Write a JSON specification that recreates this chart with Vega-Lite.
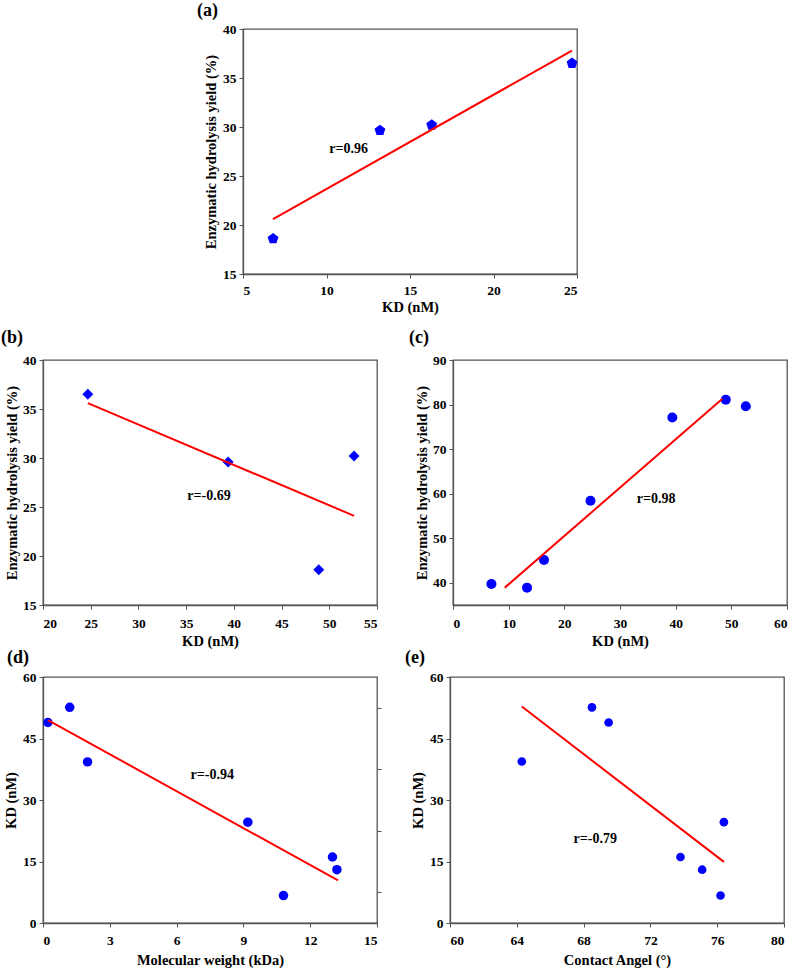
{
  "$schema": "https://vega.github.io/schema/vega-lite/v6.json",
  "background": "white",
  "padding": {"left": 0, "top": 1, "right": 2, "bottom": 1},
  "config": {
    "font": "Liberation Serif",
    "view": {"stroke": "#555", "strokeWidth": 1.3},
    "axis": {"labelFont": "Liberation Serif", "labelFontWeight": "bold", "labelFontSize": 13.5, "labelColor": "black", "titleFont": "Liberation Serif", "titleFontWeight": "bold", "titleFontSize": 14.5, "titleColor": "black", "grid": false, "domainColor": "#555", "domainWidth": 1.3, "tickColor": "#555", "tickSize": 4, "labelPadding": 3, "titlePadding": 4},
    "axisX": {"labelPadding": 5, "titlePadding": 4},
    "title": {"font": "Liberation Serif", "fontSize": 18, "fontWeight": "bold", "anchor": "start", "frame": "group", "color": "black", "offset": 3}
  },
  "spacing": 13,
  "vconcat": [
    {
      "bounds": "flush",
      "spacing": 10,
      "hconcat": [
        {"width": 190, "height": 10, "view": {"stroke": null}, "data": {"values": [{"a": 0}]}, "mark": {"type": "point", "opacity": 0}, "encoding": {}},
        {
          "width": 334, "height": 245,
          "title": {"text": "(a)", "dx": -46, "offset": 2},
          "encoding": {
            "x": {"field": "x", "type": "quantitative", "scale": {"domain": [5, 25], "nice": false, "zero": false}, "axis": {"values": [5, 10, 15, 20, 25], "title": "KD (nM)"}},
            "y": {"field": "y", "type": "quantitative", "scale": {"domain": [15, 40], "nice": false, "zero": false}, "axis": {"values": [15, 20, 25, 30, 35, 40], "title": "Enzymatic hydrolysis  yield (%)"}}
          },
          "layer": [
            {"data": {"values": [{"x": 6.8, "y": 18.6}, {"x": 13.2, "y": 29.65}, {"x": 16.3, "y": 30.2}, {"x": 24.7, "y": 36.5}]},
             "mark": {"type": "point", "shape": "M0,-1L0.951,-0.309L0.588,0.809L-0.588,0.809L-0.951,-0.309Z", "filled": true, "color": "#0000ff", "opacity": 1, "size": 130}},
            {"data": {"values": [{"x": 6.8, "y": 20.6}, {"x": 24.7, "y": 37.8}]},
             "mark": {"type": "line", "color": "#ff0000", "strokeWidth": 2}},
            {"data": {"values": [{"x": 11.33, "y": 27.77, "label": "r=0.96"}]},
             "mark": {"type": "text", "font": "Liberation Serif", "fontWeight": "bold", "fontSize": 14, "color": "black"},
             "encoding": {"text": {"field": "label"}}}
          ]
        }
      ]
    },
    {
      "spacing": -1,
      "vconcat": [
        {
          "bounds": "flush",
          "spacing": 76,
          "hconcat": [
            {
              "width": 334, "height": 245,
              "title": {"text": "(b)", "dx": -42, "offset": 6},
              "encoding": {
                "x": {"field": "x", "type": "quantitative", "scale": {"domain": [20, 55], "nice": false, "zero": false}, "axis": {"values": [20, 25, 30, 35, 40, 45, 50, 55], "title": "KD (nM)", "labelPadding": 7, "titlePadding": 5}},
                "y": {"field": "y", "type": "quantitative", "scale": {"domain": [15, 40], "nice": false, "zero": false}, "axis": {"values": [15, 20, 25, 30, 35, 40], "title": "Enzymatic hydrolysis  yield (%)", "titlePadding": 3}}
              },
              "layer": [
                {"data": {"values": [{"x": 24.7, "y": 36.5}, {"x": 39.4, "y": 29.6}, {"x": 48.9, "y": 18.6}, {"x": 52.6, "y": 30.2}]},
                 "mark": {"type": "point", "shape": "diamond", "filled": true, "color": "#0000ff", "opacity": 1, "size": 120}},
                {"data": {"values": [{"x": 24.7, "y": 35.6}, {"x": 52.6, "y": 24.1}]},
                 "mark": {"type": "line", "color": "#ff0000", "strokeWidth": 2}},
                {"data": {"values": [{"x": 37.4, "y": 26.1, "label": "r=-0.69"}]},
                 "mark": {"type": "text", "font": "Liberation Serif", "fontWeight": "bold", "fontSize": 14, "color": "black"},
                 "encoding": {"text": {"field": "label"}}}
              ]
            },
            {
              "width": 334, "height": 245,
              "title": {"text": "(c)", "dx": -44, "offset": 6},
              "encoding": {
                "x": {"field": "x", "type": "quantitative", "scale": {"domain": [0, 60], "nice": false, "zero": false}, "axis": {"values": [0, 10, 20, 30, 40, 50, 60], "title": "KD (nM)", "labelPadding": 7, "titlePadding": 5}},
                "y": {"field": "y", "type": "quantitative", "scale": {"domain": [35, 90], "nice": false, "zero": false}, "axis": {"values": [40, 50, 60, 70, 80, 90], "title": "Enzymatic hydrolysis  yield (%)", "titlePadding": 3}}
              },
              "layer": [
                {"data": {"values": [{"x": 6.9, "y": 39.7}, {"x": 13.3, "y": 38.9}, {"x": 16.35, "y": 45.1}, {"x": 24.7, "y": 58.4}, {"x": 39.4, "y": 77.1}, {"x": 49.0, "y": 81.1}, {"x": 52.6, "y": 79.6}]},
                 "mark": {"type": "circle", "color": "#0000ff", "opacity": 1, "size": 100}},
                {"data": {"values": [{"x": 9.3, "y": 38.9}, {"x": 48.4, "y": 81.3}]},
                 "mark": {"type": "line", "color": "#ff0000", "strokeWidth": 2}},
                {"data": {"values": [{"x": 36.5, "y": 58.8, "label": "r=0.98"}]},
                 "mark": {"type": "text", "font": "Liberation Serif", "fontWeight": "bold", "fontSize": 14, "color": "black"},
                 "encoding": {"text": {"field": "label"}}}
              ]
            }
          ]
        },
        {
          "bounds": "flush",
          "spacing": 73,
          "hconcat": [
            {
              "width": 334, "height": 246,
              "title": {"text": "(d)", "dx": -36, "offset": 3},
              "resolve": {"axis": {"y": "independent"}},
              "encoding": {
                "x": {"field": "x", "type": "quantitative", "scale": {"domain": [0, 15], "nice": false, "zero": false}, "axis": {"values": [0, 3, 6, 9, 12, 15], "title": "Molecular weight (kDa)", "labelPadding": 6, "titlePadding": 7}}
              },
              "layer": [
                {"data": {"values": [{"x": 0.22, "y": 48.9}, {"x": 1.2, "y": 52.6}, {"x": 2.0, "y": 39.3}, {"x": 9.2, "y": 24.6}, {"x": 10.8, "y": 6.7}, {"x": 13.0, "y": 16.1}, {"x": 13.2, "y": 13.0}]},
                 "mark": {"type": "circle", "color": "#0000ff", "opacity": 1, "size": 90},
                 "encoding": {"y": {"field": "y", "type": "quantitative", "scale": {"domain": [0, 60], "nice": false, "zero": false}, "axis": {"values": [0, 15, 30, 45, 60], "title": "KD (nM)"}}}},
                {"data": {"values": [{"x": 0.22, "y": 49.5}, {"x": 13.25, "y": 10.4}]},
                 "mark": {"type": "line", "color": "#ff0000", "strokeWidth": 2},
                 "encoding": {"y": {"field": "y", "type": "quantitative", "axis": {"orient": "right", "values": [7.5, 22.5, 37.5, 52.5], "labels": false, "domain": false, "title": null}}}},
                {"data": {"values": [{"x": 7.6, "y": 36.1, "label": "r=-0.94"}]},
                 "mark": {"type": "text", "font": "Liberation Serif", "fontWeight": "bold", "fontSize": 14, "color": "black"},
                 "encoding": {"y": {"field": "y", "type": "quantitative", "axis": null}, "text": {"field": "label"}}}
              ]
            },
            {
              "width": 334, "height": 246,
              "title": {"text": "(e)", "dx": -45, "offset": 3},
              "encoding": {
                "x": {"field": "x", "type": "quantitative", "scale": {"domain": [60, 80], "nice": false, "zero": false}, "axis": {"values": [60, 64, 68, 72, 76, 80], "title": "Contact Angel (°)", "labelPadding": 6, "titlePadding": 7}},
                "y": {"field": "y", "type": "quantitative", "scale": {"domain": [0, 60], "nice": false, "zero": false}, "axis": {"values": [0, 15, 30, 45, 60], "title": "KD (nM)"}}
              },
              "layer": [
                {"data": {"values": [{"x": 64.3, "y": 39.4}, {"x": 68.5, "y": 52.6}, {"x": 69.5, "y": 48.9}, {"x": 73.8, "y": 16.1}, {"x": 75.1, "y": 13.0}, {"x": 76.2, "y": 6.7}, {"x": 76.4, "y": 24.6}]},
                 "mark": {"type": "circle", "color": "#0000ff", "opacity": 1, "size": 75}},
                {"data": {"values": [{"x": 64.3, "y": 52.8}, {"x": 76.4, "y": 14.9}]},
                 "mark": {"type": "line", "color": "#ff0000", "strokeWidth": 2}},
                {"data": {"values": [{"x": 68.7, "y": 20.4, "label": "r=-0.79"}]},
                 "mark": {"type": "text", "font": "Liberation Serif", "fontWeight": "bold", "fontSize": 14, "color": "black"},
                 "encoding": {"text": {"field": "label"}}}
              ]
            }
          ]
        }
      ]
    }
  ]
}
